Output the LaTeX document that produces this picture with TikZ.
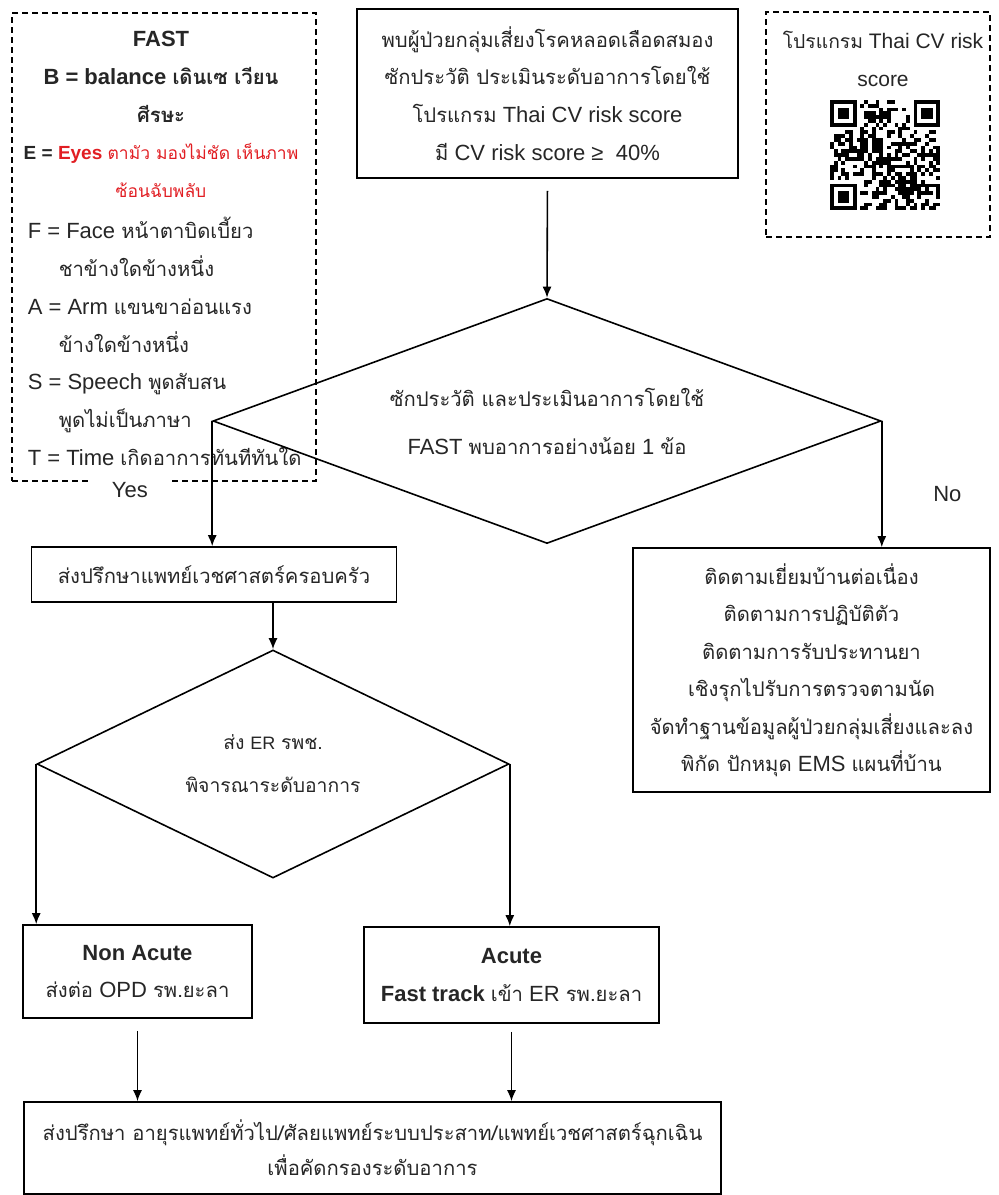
\documentclass[tikz,border=0pt]{standalone}
\usepackage{fontspec}
\setmainfont{Liberation Sans}
\newfontfamily\thai[Script=Thai,Scale=0.92]{Loma}
\usetikzlibrary{arrows,arrows.meta,positioning,shapes.geometric,calc}
\definecolor{eyered}{RGB}{225,30,35}
\newcommand*{\fsz}{\fontsize{11}{18.9}\selectfont}

\begin{document}
\begin{tikzpicture}[x=0.5pt, y=-0.5pt, ->, >={Latex[length=5.5pt,width=4.5pt]}, thick]
    \tikzstyle{box}=[draw, rectangle, align=center, font=\fsz, inner sep=0pt, text=black!85]
    \tikzstyle{decision}=[draw, diamond, align=center, inner sep=0pt, text=black!85]
    \tikzstyle{dashbox}=[draw, dash pattern=on 3pt off 2pt]
    \tikzstyle{lbl}=[font=\fsz, fill=white, text=black!85]
    \useasboundingbox (0,0) rectangle (998,1195);

    % side notes
    \node[dashbox, minimum width=152pt, minimum height=234pt] (fastbox) at (164,247) {};
    \node[font=\fsz, align=center, text=black!85] (fasthead) at (161,114.5)
        {\textbf{FAST}\\ \textbf{B = balance {\thai เดินเซ เวียน}}\\ \textbf{\thai ศีรษะ}\\
         {\fontsize{9.5}{18.9}\selectfont\textbf{E =} {\color{eyered}\textbf{Eyes} {\thai ตามัว มองไม่ชัด เห็นภาพ}}}\\
         {\fontsize{9.5}{18.9}\selectfont\color{eyered}\thai ซ้อนฉับพลับ}};
    \node[font=\fsz, align=left, anchor=west, inner sep=0pt, text=black!85] (fastlist) at (27,341.5)
        {F = Face {\thai หน้าตาบิดเบี้ยว}\\ \hspace*{15.5pt}{\thai ชาข้างใดข้างหนึ่ง}\\
         A = Arm {\thai แขนขาอ่อนแรง}\\ \hspace*{15.5pt}{\thai ข้างใดข้างหนึ่ง}\\
         S = Speech {\thai พูดสับสน}\\ \hspace*{15.5pt}{\thai พูดไม่เป็นภาษา}\\
         T = Time {\thai เกิดอาการทันทีทันใด}};

    \node[dashbox, minimum width=112pt, minimum height=112.5pt] (qrbox) at (878,124.5) {};
    \node[font=\fontsize{10.5}{18.9}\selectfont, align=center, text=black!85] (qrtxt) at (883,59)
        {{\thai โปรแกรม} Thai CV risk\\ score};
    \begin{scope}[-, shift={(830,100)}]
        \def\qm{3.8}
        \pgfmathsetseed{42}
        \foreach \i in {0,...,28}{
            \foreach \j in {0,...,28}{
                \pgfmathtruncatemacro{\infd}{((\i<8)&&(\j<8))||((\i>20)&&(\j<8))||((\i<8)&&(\j>20))}
                \pgfmathtruncatemacro{\qbit}{rnd<0.5}
                \ifnum\infd=0 \ifnum\qbit=1 \fill (\i*\qm,\j*\qm) rectangle ++(\qm,\qm); \fi\fi
            }
        }
        \foreach \fx/\fy in {0/0,22/0,0/22}{
            \fill (\fx*\qm,\fy*\qm) rectangle ++(7*\qm,7*\qm);
            \fill[white] ({(\fx+1)*\qm},{(\fy+1)*\qm}) rectangle ++(5*\qm,5*\qm);
            \fill ({(\fx+2)*\qm},{(\fy+2)*\qm}) rectangle ++(3*\qm,3*\qm);
        }
    \end{scope}

    % flow
    \node[box, minimum width=190.5pt, minimum height=84.5pt] (risk) at (547.5,93.5)
        {{\thai พบผู้ป่วยกลุ่มเสี่ยงโรคหลอดเลือดสมอง}\\ {\thai ซักประวัติ ประเมินระดับอาการโดยใช้}\\
         {\thai โปรแกรม} Thai CV risk score\\ {\thai มี} CV risk score ≥\ \ 40\%};
    \node[decision, aspect=2.7, minimum width=334pt, minimum height=122.5pt,
          font=\fontsize{11}{24}\selectfont] (chk) at (547,421)
        {{\thai ซักประวัติ และประเมินอาการโดยใช้}\\ FAST {\thai พบอาการอย่างน้อย} 1 {\thai ข้อ}};
    \node[box, minimum width=182.5pt, minimum height=27.5pt] (fam) at (214,574.5)
        {\thai ส่งปรึกษาแพทย์เวชศาสตร์ครอบครัว};
    \node[box, minimum width=178.5pt, minimum height=122pt,
          font=\fontsize{11}{18.75}\selectfont] (follow) at (811.5,670)
        {{\thai ติดตามเยี่ยมบ้านต่อเนื่อง}\\ {\thai ติดตามการปฏิบัติตัว}\\ {\thai ติดตามการรับประทานยา}\\
         {\thai เชิงรุกไปรับการตรวจตามนัด}\\ {\thai จัดทำฐานข้อมูลผู้ป่วยกลุ่มเสี่ยงและลง}\\
         {\thai พิกัด ปักหมุด} EMS {\thai แผนที่บ้าน}};
    \node[decision, aspect=2.07, minimum width=236pt, minimum height=114pt,
          font=\fontsize{10.5}{21.5}\selectfont] (er) at (273,764)
        {{\thai ส่ง} {\small ER} {\thai รพช.}\\ {\thai พิจารณาระดับอาการ}};
    \node[box, minimum width=114.5pt, minimum height=46.5pt] (nonac) at (137.5,971.5)
        {\textbf{Non Acute}\\ {\thai ส่งต่อ} OPD {\thai รพ.ยะลา}};
    \node[box, minimum width=147.5pt, minimum height=48pt] (acute) at (511.5,975)
        {\textbf{Acute}\\ \textbf{Fast track} {\thai เข้า} ER {\thai รพ.ยะลา}};
    \node[box, minimum width=348.5pt, minimum height=46pt,
          font=\fontsize{11}{17.5}\selectfont] (consult) at (372.5,1148)
        {{\thai ส่งปรึกษา อายุรแพทย์ทั่วไป/ศัลยแพทย์ระบบประสาท/แพทย์เวชศาสตร์ฉุกเฉิน}\\
         {\thai เพื่อคัดกรองระดับอาการ}};

    \path
(risk.south)  edge[shorten <=6pt]   (chk.north)
(chk.west)    edge    node[lbl, pos=0.55, left=20pt, minimum width=41.5pt] {Yes}  (chk.west |- fam.north)
(chk.east)    edge    node[lbl, pos=0.58, right=22pt] {No}  (chk.east |- follow.north)
(fam.south -| er.north) edge        (er.north)
(er.west)     edge                  (er.west |- nonac.north)
(er.east)     edge                  (er.east |- acute.north)
(nonac.south) edge[shorten <=6pt]   (nonac.south |- consult.north)
(acute.south) edge[shorten <=4pt]   (acute.south |- consult.north);
\end{tikzpicture}
\end{document}
